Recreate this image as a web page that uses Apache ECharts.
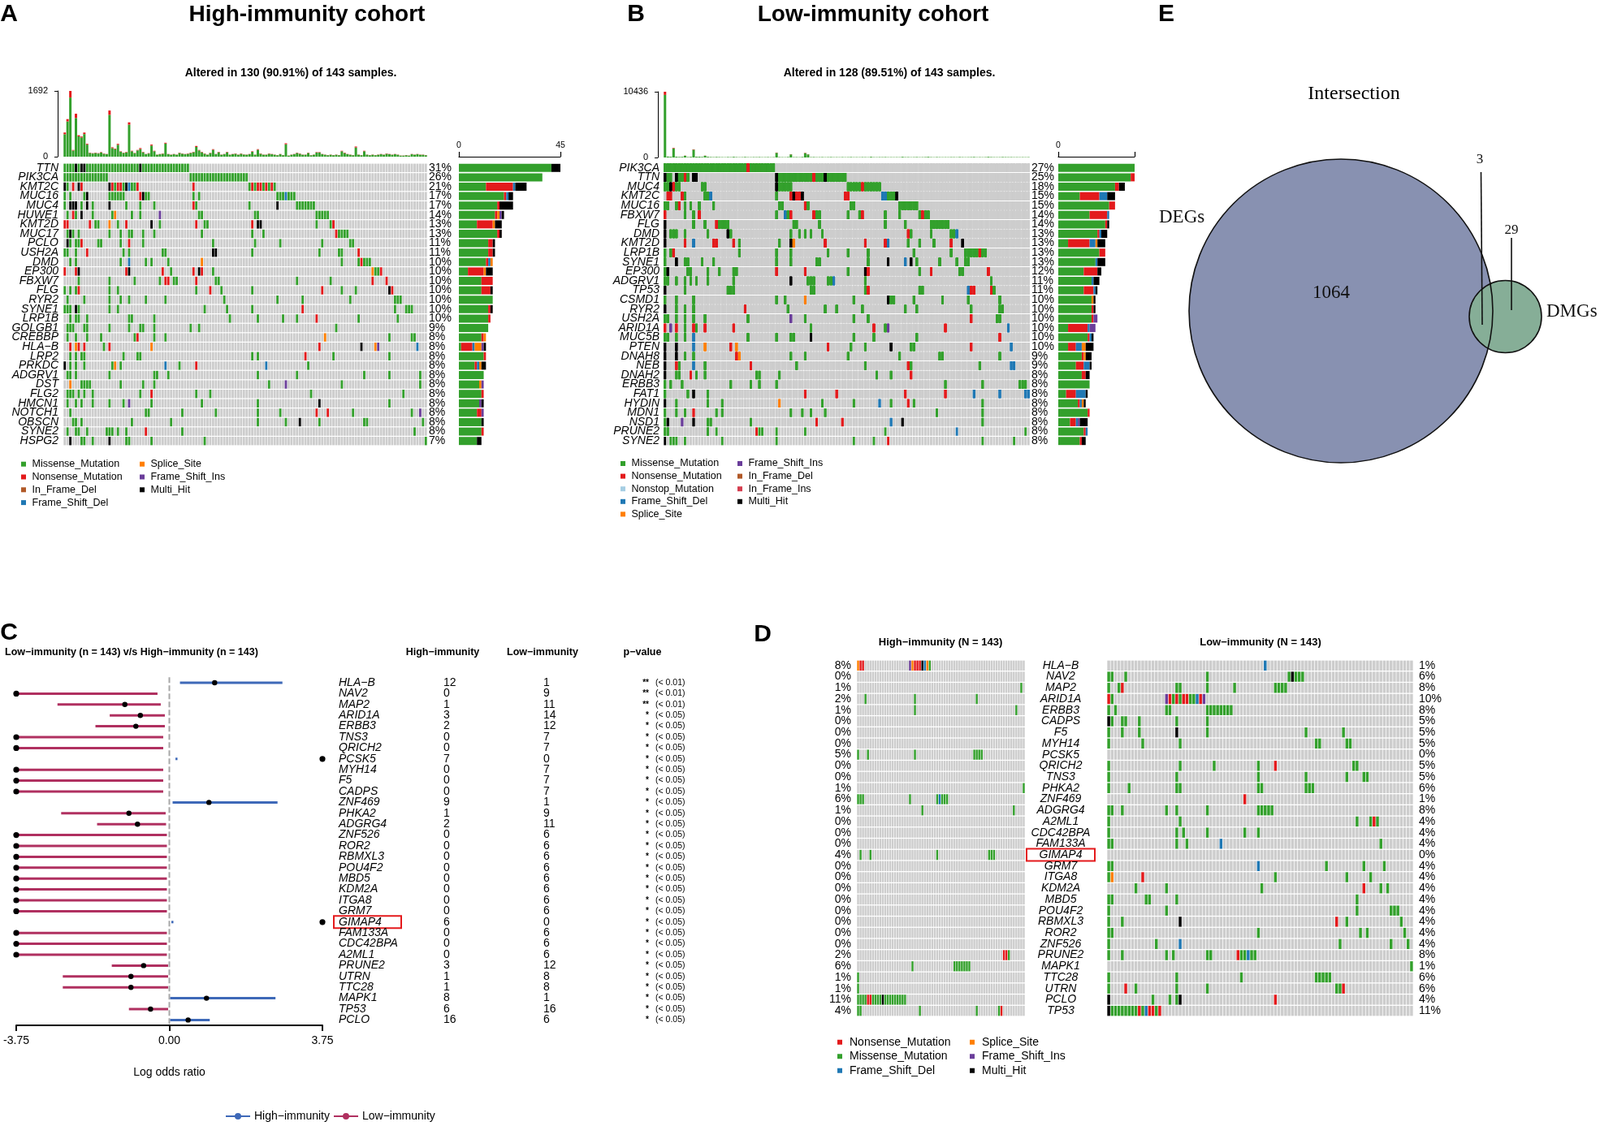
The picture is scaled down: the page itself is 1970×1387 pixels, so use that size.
<!DOCTYPE html>
<html lang="en">
<head>
<meta charset="utf-8">
<title>Mutation landscape</title>
<script src="https://cdn.jsdelivr.net/npm/echarts@6/dist/echarts.min.js"></script>
<style>
html, body { margin: 0; padding: 0; background: #fff; }
#main { width: 1970px; height: 1387px; }
</style>
</head>
<body>
<div id="main"></div>
<script>
// ---------------- data ----------------
// mutation codes: M missense, N nonsense, O nonstop, D frame_shift_del, S splice_site,
// P frame_shift_ins, I in_frame_del, F in_frame_ins, H multi_hit
var typeOrder = ['M', 'N', 'O', 'D', 'S', 'P', 'I', 'F', 'H'];
var typeNames = {M: 'Missense_Mutation', N: 'Nonsense_Mutation', O: 'Nonstop_Mutation', D: 'Frame_Shift_Del',
  S: 'Splice_Site', P: 'Frame_Shift_Ins', I: 'In_Frame_Del', F: 'In_Frame_Ins', H: 'Multi_Hit'};

// panel A: high-immunity oncoplot (130 altered samples)
var genesA = ['TTN','PIK3CA','KMT2C','MUC16','MUC4','HUWE1','KMT2D','MUC17','PCLO','USH2A','DMD','EP300','FBXW7','FLG','RYR2','SYNE1','LRP1B','GOLGB1','CREBBP','HLA\u2212B','LRP2','PRKDC','ADGRV1','DST','FLG2','HMCN1','NOTCH1','OBSCN','SYNE2','HSPG2'];
var pctA = ['31%','26%','21%','17%','17%','14%','13%','13%','11%','11%','10%','10%','10%','10%','10%','10%','10%','9%','8%','8%','8%','8%','8%','8%','8%','8%','8%','8%','8%','7%'];
var cellsA = [
  '0-44M 4H 6H 7H 27H',
  '0-15M 45-65M',
  '0H 1M 3N 5H 6N 16H 17N 18M 19N 20N 21M 22H 23D 24M 25M 26N 46N 66M 67N 68M 69N 70N 71M 72N 73M 74N 75M',
  '0M 2M 7M 8H 16-21M 27N 28H 29M 30M 46M 48M 76-82M 79D',
  '0M 2H 3H 4H 6M 8H 10M 16H 22M 27M 32M 46N 47M 66M 76H 83-89M',
  '1M 3N 4M 6H 10M 17M 18S 24M 27M 34P 48M 49M 68M 69M 90-94M',
  '0N 1N 9N 11M 12M 16S 19M 22N 31H 34M 47N 50M 51M 67N 69H 70H 90M 95M 96N',
  '1M 2H 3M 5M 16M 20M 23M 24M 28M 32M 49M 67M 71M 97N 98-101M',
  '1H 2M 4M 5M 6N 12M 13M 20M 23N 28M 53M 68M 77M 92M 102M 103M',
  '0M 1M 4M 8N 21M 23M 35M 36M 53H 54H 67M 91M 98M 99M 105N',
  '2M 4M 20M 23D 29M 31M 37M 49S 99M 105M 106N 107M 108M 109M',
  '0N 4N 5H 22N 23H 35N 38M 46N 48H 49N 53M 110S 111M 112M 113N',
  '5M 16M 25M 34M 36N 37N 39M 40M 47N 54M 55M 83M 95M 110N 115N',
  '0M 2M 4M 5N 16M 19M 47M 52N 56M 67M 92N 99M 104M 116H 117N',
  '1M 7M 16M 20M 23M 29M 36M 57M 76M 85M 102M 118-120M',
  '0-2M 4H 5M 16M 19M 50M 58M 67M 85N 118M 122-124M',
  '2M 4M 5M 8M 23M 24M 32M 59M 69M 78M 83M 90N 105M 119M',
  '1-3M 7M 8M 16M 23M 27M 28M 32M 45M 48M 97M',
  '1M 4M 8M 13M 25M 26N 32M 36M 93S 116M 124M 125M',
  '2N 4S 5N 7N 14M 16N 31S 91N 106H 111S 112P 126D',
  '2M 4M 6M 7M 21M 26M 27M 67M 69M 86N 96M 116M',
  '0H 2M 4M 7M 17M 18S 20M 36D 41M 47N 72D 87M',
  '1M 2M 4M 16M 32M 33M 37M 69M 83M 107M 116M 127M',
  '2S 6-9M 20M 28M 32M 73M 79P 99M 127M',
  '1M 2M 3M 5M 7M 10M 27M 31N 47M 52M 88M 121M',
  '1M 4M 6M 10M 16M 21M 23P 31M 49M 69M 91H 116M',
  '2M 29M 30M 42M 54M 69M 77M 90N 94N 103M 124M 127P',
  '3M 4M 6M 24M 38M 69M 79M 84H 91M 107M 108M 128M',
  '1M 4M 5M 8M 15-17M 19M 22M 29N 42M 125M',
  '2H 6M 7M 10M 16H 22M 23M 31M 50M 129M'
];
// variant counts per gene (right-hand bars)
var barsA = ['41M 4H','37M','12M 12N 1D 5H','20M 1N 1D 2H','17M 1N 6H','16M 1N 1S 1P 1H','8M 7N 1S 3H','17M 1N 1H','13M 2N 1H','13M 2N 1H',
  '12M 1N 1D 1S','4M 7N 1S 3H','10M 5N','10M 4N 1H','15M','13M 1N 1H','13M 1N','13M','10M 1N 1S','1M 5N 1D 3S 1P 1H',
  '11M 1N','7M 1N 1D 1S 2H','11M','9M 1S 1P','10M 1N','9M 1P 1H','8M 2N 1P','10M 1H','10M 1N','8M 2H'];
// mutations per sample (top bars): total and nonsense part
var tmbA = [622,967,1692,173,1105,552,518,621,331,104, 90,104,90,117,83,69,1188,242,207,331,
  138,104,120,884,152,97,173,221,124,69, 90,311,152,55,69,83,359,69,55,69,
  55,104,83,69,83,104,124,276,173,124, 83,55,100,193,69,124,55,69,124,55,
  69,83,55,83,60,55,69,138,55,193, 83,55,55,83,69,55,40,69,41,345,
  30,55,69,104,83,55,55,104,41,55, 117,117,69,55,41,55,41,55,41,152,
  104,69,55,41,262,55,41,152,55,41, 55,41,55,69,55,83,69,55,69,55,
  30,30,41,30,69,55,69,55,55,41];
var nonA = [45,60,170,15,110,30,25,40,20,8, 8,8,8,10,8,6,110,20,15,25,
  10,8,10,60,12,8,12,25,10,6, 8,25,12,5,6,8,20,6,5,6,
  5,8,6,6,8,8,10,25,12,10, 8,5,8,15,6,10,5,6,10,5,
  6,8,5,8,5,5,6,12,5,15, 8,5,5,8,6,5,4,6,4,25,
  4,5,6,8,8,5,5,8,4,5, 10,10,6,5,4,5,4,5,4,12,
  10,6,5,4,25,5,4,12,5,4, 5,4,5,6,5,8,6,5,6,5,
  4,4,4,4,6,5,6,5,5,4];

// panel B: low-immunity oncoplot (128 altered samples)
var genesB = ['PIK3CA','TTN','MUC4','KMT2C','MUC16','FBXW7','FLG','DMD','KMT2D','LRP1B','SYNE1','EP300','ADGRV1','TP53','CSMD1','RYR2','USH2A','ARID1A','MUC5B','PTEN','DNAH8','NEB','DNAH2','ERBB3','FAT1','HYDIN','MDN1','NSD1','PRUNE2','SYNE2'];
var pctB = ['27%','25%','18%','15%','15%','14%','14%','13%','13%','13%','13%','12%','11%','11%','10%','10%','10%','10%','10%','10%','9%','9%','8%','8%','8%','8%','8%','8%','8%','8%'];
var cellsB = [
  '0-38M 29N',
  '0H 1M 2M 4H 5M 6M 7N 8M 10H 11H 39H 40-63M 52N 56H',
  '0M 1M 2H 3N 4M 5M 13M 14M 39H 40-44M 64-75M 69N',
  '1N 2N 6N 7M 14M 15M 16D 39M 44N 45H 46N 47N 48H 63N 64N 76D 77D 78M 79M 80M 81H',
  '0M 1M 4M 5N 7M 9M 12M 17M 40M 41M 49N 50M 65M 66M 82-88M',
  '0N 7M 10M 12N 39M 42D 43M 44N 52N 53M 54M 64M 68M 69N 77M 82M 89M 90N 91M 92M',
  '0H 10M 14M 18N 19-22M 45M 46M 54M 77M 84M 93-99M',
  '0H 2M 3M 4M 7M 15M 22H 23M 44M 47M 49M 51M 55M 85N 86M 93M 100M 101M 102D',
  '0H 7N 10D 17N 18N 24N 26M 40M 44H 45S 56N 70N 77N 78D 85M 89M 94M 100N 104H',
  '0M 2M 3N 26M 39M 44M 57M 64M 71M 87M 100M 105-112M 110N',
  '0M 4H 7M 8M 13M 17M 39M 44M 53M 54M 71M 78H 84D 86H 88M 96M 102M 105M 106M',
  '0M 1H 8M 9M 15M 19M 24M 25M 39N 49N 64M 70H 71N 89M 93N 103M 104M 113N',
  '0M 1M 4M 7M 9M 11M 15M 24M 44H 50M 51M 52M 57M 58M 59D 70M 114M',
  '0H 7M 22M 23M 24M 51M 52M 70M 71N 89M 90M 106D 107N 108N 114N 115M',
  '0M 4M 10M 39M 42M 49S 66M 78H 79M 80M 87M 97M 106M 117M',
  '0H 4M 7M 10M 28N 43M 56M 60M 69M 84M 88M 107M 117M 118M',
  '0M 1M 4M 7M 10M 14M 29M 44P 49M 66M 71M 107N 116M 117M',
  '0N 2P 4N 7M 10N 11M 14N 24N 51M 73N 77M 78P 98N 120D',
  '0M 1M 4M 7M 10D 29M 39M 44M 45M 51H 66M 73M 88M 117N',
  '0H 4H 10D 14S 23N 25S 57N 65M 70M 79H 86M 87M 107N 121D',
  '0H 4H 7M 10M 25N 26S 44M 49M 64M 82M 96M 97M 117M',
  '0H 4N 5M 10D 14M 30N 46M 70M 85N 86M 110M 121D 122D',
  '0H 4M 5M 9N 11M 14M 32M 33M 40M 74M 79M 86N',
  '0M 2M 6M 23M 30M 33M 39M 98M 111M 124-126M',
  '0M 8M 10H 15M 49N 60N 84N 98N 108D 117D 126D 127D',
  '0H 4M 15M 20M 40S 55M 66M 75D 79M 85N 87M 111M',
  '0M 4M 7M 10N 18M 20M 44M 48M 51M 56M 95M 111M',
  '0M 1H 6P 10H 15M 16M 30M 53N 62N 79D 83H 111M',
  '0M 1M 15M 18M 32N 33M 34M 39M 49M 77M 102D 126M',
  '0H 2M 3M 4M 7M 20M 39M 66M 73M 78N 111M 122M'
];
var barsB = ['39M','37M 2N','29M 2N 3H','11M 10N 4D 4H','26M 3N','16M 9N 1D','24M 1N 1H','20M 1N 1D 3H','5M 11N 3D 1S 4H','21M 3N',
  '19M 1D 4H','13M 7N 2H','17M 1D 3H','13M 5N 1D 1H','17M 1S 1H','17M 1N 1H','17M 1N 2P','5M 10N 1D 3P','15M 1N 1D 1H','5M 4N 3D 2S 4H',
  '12M 1N 1S 3H','9M 4N 3D 1H','12M 2N 2H','16M','4M 5N 5D 1H','10M 1N 1D 1S 1H','15M 1N','6M 3N 1D 1P 4H','13M 1N 1D','11M 1N 2H'];
var tmbB = [10436,150,120,1520,130,90,110,300,80,100, 1300,120,130,90,300,110,80,60,90,70,
  60,50,80,60,110,70,50,60,90,60, 50,70,60,80,50,60,70,50,60,780,
  70,60,50,80,520,60,70,50,90,740, 520,60,80,50,60,70,50,60,80,50,
  60,50,70,50,60,80,50,60,50,70, 60,50,110,60,50,70,60,80,50,60,
  50,60,50,110,60,70,50,60,80,50, 60,70,110,60,50,70,60,50,60,50,
  70,60,50,80,60,50,60,70,90,50, 60,50,60,110,70,60,50,60,80,70,
  60,70,50,60,50,60,50,60];
var nonB = [500,5,5,80,5,5,5,20,5,5, 60,5,5,5,20,5,5,5,5,5,
  5,5,5,5,5,5,5,5,5,5, 5,5,5,5,5,5,5,5,5,40,
  5,5,5,5,30,5,5,5,5,40, 30,5,5,5,5,5,5,5,5,5,
  5,5,5,5,5,5,5,5,5,5, 5,5,5,5,5,5,5,5,5,5,
  5,5,5,5,5,5,5,5,5,5, 5,5,5,5,5,5,5,5,5,5,
  5,5,5,5,5,5,5,5,5,5, 5,5,5,5,5,5,5,5,5,5,
  5,5,5,5,5,5,5,5];

// panel C: forest plot, low vs high immunity
var genesC = ['HLA\u2212B','NAV2','MAP2','ARID1A','ERBB3','TNS3','QRICH2','PCSK5','MYH14','F5','CADPS','ZNF469','PHKA2','ADGRG4','ZNF526','ROR2','RBMXL3','POU4F2','MBD5','KDM2A','ITGA8','GRM7','GIMAP4','FAM133A','CDC42BPA','A2ML1','PRUNE2','UTRN','TTC28','MAPK1','TP53','PCLO'];
var highN = [12,0,1,3,2,0,0,7,0,0,0,9,1,2,0,0,0,0,0,0,0,0,6,0,0,0,3,1,1,8,6,16];
var lowN = [1,9,11,14,12,7,7,0,7,7,7,1,9,11,6,6,6,6,6,6,6,6,0,6,6,6,12,8,8,1,16,6];
var pStars = ['**','**','**','*','*','*','*','*','*','*','*','*','*','*','*','*','*','*','*','*','*','*','*','*','*','*','*','*','*','*','*','*'];
var pText = ['(< 0.01)','(< 0.01)','(< 0.01)','(< 0.05)','(< 0.05)','(< 0.05)','(< 0.05)','(< 0.05)','(< 0.05)','(< 0.05)','(< 0.05)','(< 0.05)','(< 0.05)','(< 0.05)','(< 0.05)','(< 0.05)','(< 0.05)','(< 0.05)','(< 0.05)','(< 0.05)','(< 0.05)','(< 0.05)','(< 0.05)','(< 0.05)','(< 0.05)','(< 0.05)','(< 0.05)','(< 0.05)','(< 0.05)','(< 0.05)','(< 0.05)','(< 0.05)'];
var NI = -Infinity, PI = Infinity;
var orEst = [1.11, NI, -1.09, -0.71, -0.82, NI, NI, PI, NI, NI, NI, 0.97, -0.99, -0.78, NI, NI, NI, NI, NI, NI, NI, NI, PI, NI, NI, NI, -0.63, -0.94, -0.94, 0.91, -0.46, 0.46];
var orLo = [0.26, NI, -2.74, -1.46, -1.81, NI, NI, 0.15, NI, NI, NI, 0.08, -2.65, -1.77, NI, NI, NI, NI, NI, NI, NI, NI, 0.05, NI, NI, NI, -1.41, -2.61, -2.61, 0.02, -0.99, 0.02];
var orHi = [2.77, -0.29, -0.21, -0.11, -0.11, -0.15, -0.15, 0.2, -0.15, -0.15, -0.15, 2.65, -0.09, -0.08, -0.06, -0.06, -0.06, -0.06, -0.06, -0.06, -0.06, -0.06, 0.1, -0.06, -0.06, -0.06, -0.03, -0.03, -0.03, 2.6, -0.03, 0.99];
var orTicks = [-3.75, 0, 3.75];
var highlightGene = 'GIMAP4';

// panel D: co-oncoplot of the same genes
var genesD = ['HLA\u2212B','NAV2','MAP2','ARID1A','ERBB3','CADPS','F5','MYH14','PCSK5','QRICH2','TNS3','PHKA2','ZNF469','ADGRG4','A2ML1','CDC42BPA','FAM133A','GIMAP4','GRM7','ITGA8','KDM2A','MBD5','POU4F2','RBMXL3','ROR2','ZNF526','PRUNE2','MAPK1','TTC28','UTRN','PCLO','TP53'];
var pctDL = ['8%','0%','1%','2%','1%','0%','0%','0%','5%','0%','0%','1%','6%','1%','0%','0%','0%','4%','0%','0%','0%','0%','0%','0%','0%','0%','2%','6%','1%','1%','11%','4%'];
var pctDR = ['1%','6%','8%','10%','8%','5%','5%','5%','0%','5%','5%','6%','1%','8%','4%','4%','4%','0%','4%','4%','4%','4%','4%','4%','4%','4%','8%','1%','6%','6%','4%','11%'];
var cellsDL = [
  '0S 1N 2N 21P 22S 23N 24N 25N 26H 27D 28S 29M', '', '66M', '3M 23M 48M', '23M 64M', '', '', '',
  '0M 4M 23M 47-50M', '', '', '67M', '0-2M 21M 32M 33D 34-36M', '26M 63M', '', '', '',
  '1M 5M 32M 53-55M', '', '', '', '', '', '', '', '',
  '59N 60N 61M', '22M 39-45M', '0M', '0M', '0-19M 4N 5N 10H', '0M 1M 25M 48M 57M 58N'
];
var cellsDR = [
  '46D',
  '0M 1M 5M 29M 53M 54H 55-57M',
  '0M 3M 4N 20M 21M 29M 37M 49-52M',
  '0N 1M 17P 18N 19M 20N 21M 22N 23N 24M 25M 26D 27N 28P',
  '0M 2M 17M 18M 29-36M',
  '0H 1M 4M 5M 9M 20M 29M',
  '0M 4M 9M 20H 29M 58M 69M',
  '0M 10M 21M 61M 62M 70M 71M',
  '',
  '0M 21M 31M 44M 49N 72M 73M',
  '0M 20M 44M 58M 70M 75M 76M',
  '0M 6M 20M 21M 44M 45M 58-60M',
  '40N',
  '0M 1M 4M 17M 20M 29M 44-48M',
  '0M 21M 73M 77M 78N 79M',
  '0M 20M 22M 29M 40M 44M',
  '0M 1M 20M 23M 33D 80M',
  '',
  '0M 1M 44D 64M 75M 81M',
  '0M 1S 10N 49M 70M 77M',
  '8M 17M 45M 75N 80M 82M',
  '0M 1M 11M 12M 20M 73M',
  '0M 17M 73M 83-85M',
  '0M 4M 21H 67N 70M 86M',
  '0M 1M 44M 74M 76M 87M',
  '0M 14M 21D 68M 83M 88M',
  '0M 4M 17M 19M 29M 30M 38N 39M 40M 41D 42M 43M',
  '89M',
  '0M 20M 39M 61-65M',
  '0M 5N 8M 20M 29M 67M 68M 69N',
  '0H 13M 18M 20M 21H 49N',
  '0H 1-8M 9N 10M 11D 12N 13N 14M 15N'
];

// panel E: Venn counts (only DEGs, shared, only DMGs)
var vennSets = ['DEGs', 'DMGs'];
var vennCounts = [1064, 3, 29];

// ---------------- style ----------------
var FF = 'Liberation Sans, Arial, Helvetica, sans-serif';
var SERIF = 'Liberation Serif, Times New Roman, serif';
var BG = '#CDCDCD';
var typeColors = {M: '#33A02C', N: '#E31A1C', O: '#A6CEE3', D: '#1F78B4', S: '#FF7F00', P: '#6A3D9A', I: '#B15928', F: '#D53E4F', H: '#000000'};
var BLUE = '#3E69B8', RED = '#B03060';

var grids = [], xAxes = [], yAxes = [], series = [];
function addGrid(g) { g.outerBoundsMode = 'none'; g.containLabel = false; grids.push(g); return grids.length - 1; }
function addX(a) { xAxes.push(a); return xAxes.length - 1; }
function addY(a) { yAxes.push(a); return yAxes.length - 1; }

function parseCells(str) {
  var out = [];
  (str.match(/\d+(?:-\d+)?[A-Z]/g) || []).forEach(function (t) {
    var m = t.match(/(\d+)(?:-(\d+))?([A-Z])/);
    var a = +m[1], b = m[2] ? +m[2] : a;
    for (var c = a; c <= b; c++) out.push([c, m[3]]);
  });
  return out;
}
function parseCounts(str) {
  var out = {};
  (str.match(/\d+[A-Z]/g) || []).forEach(function (t) { out[t.slice(-1)] = +t.slice(0, -1); });
  return out;
}

function cellRenderer(gx, gy) {
  return function (params, api) {
    var c = api.value(0), r = api.value(1), t = api.value(2);
    var p = api.coord([c, r]);
    var s = api.size([1, 1]);
    return {type: 'rect', shape: {x: p[0] + gx / 2, y: p[1] - s[1] / 2 + gy / 2, width: s[0] - gx, height: s[1] - gy},
      style: {fill: t < 0 ? BG : typeColors[typeOrder[t]]}};
  };
}

function addMatrix(genes, cells, nCols, box, gx, gy, leftLab, rightLab) {
  var g = addGrid({left: box[0], top: box[1], width: box[2], height: box[3]});
  var xi = addX({gridIndex: g, type: 'value', min: 0, max: nCols, show: false});
  var yi = addY({gridIndex: g, type: 'category', inverse: true, data: genes, position: 'left',
    show: !!leftLab, axisLine: {show: false}, axisTick: {show: false}, splitLine: {show: false},
    axisLabel: leftLab || {}});
  if (rightLab) {
    addY({gridIndex: g, type: 'category', inverse: true, data: genes, position: 'right',
      axisLine: {show: false}, axisTick: {show: false}, splitLine: {show: false}, axisLabel: rightLab});
  }
  var data = [];
  genes.forEach(function (gName, r) {
    var row = [];
    for (var c = 0; c < nCols; c++) row.push(-1);
    parseCells(cells[r]).forEach(function (p) { if (p[0] < nCols) row[p[0]] = typeOrder.indexOf(p[1]); });
    for (var k = 0; k < nCols; k++) data.push([k, r, row[k]]);
  });
  series.push({type: 'custom', silent: true, xAxisIndex: xi, yAxisIndex: yi, encode: {x: 0, y: 1},
    renderItem: cellRenderer(gx, gy), data: data, animation: false});
}

function labelStyle(extra) {
  var s = {color: '#000', fontFamily: FF, fontSize: 14, interval: 0};
  for (var k in extra) s[k] = extra[k];
  return s;
}

function buildOnco(id, genes, pct, cells, nCols, tmb, non, bars, tmbMax, barMax, showMax, L) {
  addMatrix(genes, cells, nCols, [L.x, L.y, L.w, L.h], 0.6, 1.2,
    labelStyle({fontStyle: 'italic', margin: L.gm, align: 'right'}),
    labelStyle({margin: 2, align: 'left', formatter: function (v, i) { return pct[i]; }}));

  // per-sample mutation burden
  var gT = addGrid({left: L.x, top: L.ty, width: L.w, height: L.th});
  var cats = tmb.map(function (v, i) { return i; });
  var xT = addX({gridIndex: gT, type: 'category', data: cats, show: false});
  var yT = addY({gridIndex: gT, type: 'value', min: 0, max: tmbMax, interval: tmbMax, offset: 7,
    axisLine: {show: true, lineStyle: {color: '#000', width: 1}}, axisTick: {show: true, length: 4, lineStyle: {color: '#000'}},
    axisLabel: {color: '#000', fontFamily: FF, fontSize: 11, margin: 12, formatter: function (v) { return String(v); }},
    splitLine: {show: false}});
  series.push({type: 'bar', name: typeNames.M, stack: 't' + id, xAxisIndex: xT, yAxisIndex: yT, barCategoryGap: '14%',
    itemStyle: {color: typeColors.M}, data: tmb.map(function (v, i) { return v - non[i]; }), animation: false, silent: true});
  series.push({type: 'bar', name: typeNames.N, stack: 't' + id, xAxisIndex: xT, yAxisIndex: yT, barCategoryGap: '14%',
    itemStyle: {color: typeColors.N}, data: non, animation: false, silent: true});

  // variant counts per gene
  var gR = addGrid({left: L.rx, top: L.y, width: L.rw, height: L.h});
  var xR = addX({gridIndex: gR, type: 'value', position: 'top', min: 0, max: barMax, interval: barMax, offset: 8,
    axisLine: {show: true, lineStyle: {color: '#000', width: 1.2}}, axisTick: {show: true, length: 6, lineStyle: {color: '#000', width: 1.2}},
    axisLabel: {color: '#000', fontFamily: FF, fontSize: 10.5, margin: 8,
      formatter: function (v) { return (v === 0 || showMax) ? String(v) : ''; }},
    splitLine: {show: false}});
  var yR = addY({gridIndex: gR, type: 'category', inverse: true, data: genes, show: false});
  var counts = bars.map(parseCounts);
  typeOrder.forEach(function (t) {
    series.push({type: 'bar', name: typeNames[t], stack: 'r' + id, xAxisIndex: xR, yAxisIndex: yR, barCategoryGap: '14%',
      itemStyle: {color: typeColors[t]}, data: counts.map(function (c) { return c[t] || 0; }), animation: false, silent: true});
  });
}

// ---- panels A and B ----
buildOnco('A', genesA, pctA, cellsA, 130, tmbA, nonA, barsA, 1692, 45, true,
  {x: 78, y: 201, w: 448, h: 348, ty: 112, th: 81, rx: 565, rw: 125, gm: 6});
buildOnco('B', genesB, pctB, cellsB, 128, tmbB, nonB, barsB, 10436, 39, false,
  {x: 817, y: 201, w: 451, h: 348, ty: 113, th: 81, rx: 1303, rw: 94, gm: 5});

// ---- panel C: forest plot ----
var clip = function (v) { return Math.max(orTicks[0], Math.min(orTicks[2], v)); };
var rowH = 13.4, cTop = 834.3, cH = rowH * genesC.length;
var gC = addGrid({left: 20, top: cTop, width: 377, height: cH});
var xC = addX({gridIndex: gC, type: 'value', min: orTicks[0], max: orTicks[2], interval: orTicks[2],
  axisLine: {show: true, lineStyle: {color: '#000', width: 2}}, axisTick: {show: true, length: 7, lineStyle: {color: '#000', width: 2}},
  axisLabel: {color: '#000', fontFamily: FF, fontSize: 14, margin: 12, formatter: function (v) { return v.toFixed(2); }},
  splitLine: {show: false}, name: 'Log odds ratio', nameLocation: 'middle', nameGap: 51,
  nameTextStyle: {color: '#000', fontFamily: FF, fontSize: 14}});
var yC = addY({gridIndex: gC, type: 'category', inverse: true, data: genesC, show: false});
series.push({type: 'custom', silent: true, xAxisIndex: xC, yAxisIndex: yC, encode: {x: [0, 1, 2], y: 3}, animation: false,
  data: genesC.map(function (g, i) { return [clip(orLo[i]), clip(orHi[i]), clip(orEst[i]), i]; }),
  renderItem: function (params, api) {
    var lo = api.value(0), hi = api.value(1), est = api.value(2), r = api.value(3);
    var a = api.coord([lo, r]), b = api.coord([hi, r]), e = api.coord([est, r]);
    var col = est > 0 ? BLUE : RED;
    var kids = [];
    if (params.dataIndex === 0) {
      var cs = params.coordSys, z = api.coord([0, r]);
      kids.push({type: 'line', shape: {x1: z[0], y1: cs.y, x2: z[0], y2: cs.y + cs.height},
        style: {stroke: '#A8A8A8', lineWidth: 2, lineDash: [7, 3]}});
    }
    kids.push({type: 'line', shape: {x1: a[0], y1: a[1], x2: b[0], y2: b[1]}, style: {stroke: col, lineWidth: 3}});
    kids.push({type: 'circle', shape: {cx: e[0], cy: e[1], r: Math.abs(est) >= orTicks[2] ? 3.6 : 3.2}, style: {fill: '#000'}});
    return {type: 'group', children: kids};
  }});
// legend-only series
series.push({type: 'line', name: 'High\u2212immunity', xAxisIndex: xC, yAxisIndex: yC, data: [], symbol: 'circle', symbolSize: 7,
  itemStyle: {color: BLUE}, lineStyle: {color: BLUE, width: 3}});
series.push({type: 'line', name: 'Low\u2212immunity', xAxisIndex: xC, yAxisIndex: yC, data: [], symbol: 'circle', symbolSize: 7,
  itemStyle: {color: RED}, lineStyle: {color: RED, width: 3}});

// table beside the forest plot
var gTb = addGrid({left: 400, top: cTop, width: 460, height: cH});
var xTb = addX({gridIndex: gTb, type: 'value', min: 0, max: 460, show: false});
var yTb = addY({gridIndex: gTb, type: 'category', inverse: true, data: genesC, show: false});
function txt(p, s, opt) {
  var st = {text: s, fill: '#000', fontFamily: FF, fontSize: opt.size || 14, fontStyle: opt.italic ? 'italic' : 'normal',
    fontWeight: opt.bold ? 'bold' : 'normal', align: opt.align || 'left', textAlign: opt.align || 'left',
    verticalAlign: 'middle', textVerticalAlign: 'middle'};
  return {type: 'text', x: p[0], y: p[1], style: st};
}
series.push({type: 'custom', silent: true, xAxisIndex: xTb, yAxisIndex: yTb, encode: {x: 0, y: 1}, animation: false,
  data: genesC.map(function (g, i) { return [0, i]; }),
  renderItem: function (params, api) {
    var i = api.value(1);
    var kids = [
      txt(api.coord([17, i]), genesC[i], {italic: true}),
      txt(api.coord([146, i]), String(highN[i]), {}),
      txt(api.coord([269, i]), String(lowN[i]), {}),
      txt(api.coord([399, i]), pStars[i], {size: 10, bold: true, align: 'right'}),
      txt(api.coord([407, i]), pText[i], {size: 10.5})
    ];
    if (genesC[i] === highlightGene) {
      var p0 = api.coord([11, i]), p1 = api.coord([94, i]);
      kids.push({type: 'rect', shape: {x: p0[0], y: p0[1] - 7.5, width: p1[0] - p0[0], height: 15},
        style: {fill: 'none', stroke: '#E41A1C', lineWidth: 2}});
    }
    return {type: 'group', children: kids};
  }});

// ---- panel D ----
var dTop = 813, dH = 439;
addMatrix(genesD, cellsDL, 68, [1055, dTop, 207, dH], 0.6, 1.3,
  labelStyle({margin: 7, align: 'right', formatter: function (v, i) { return pctDL[i]; }}), null);
addMatrix(genesD, cellsDR, 90, [1363, dTop, 377, dH], 0.7, 1.3, null,
  labelStyle({margin: 7, align: 'left', formatter: function (v, i) { return pctDR[i]; }}));
var gDl = addGrid({left: 1262, top: dTop, width: 101, height: dH});
var xDl = addX({gridIndex: gDl, type: 'value', min: 0, max: 101, show: false});
var yDl = addY({gridIndex: gDl, type: 'category', inverse: true, data: genesD, show: false});
series.push({type: 'custom', silent: true, xAxisIndex: xDl, yAxisIndex: yDl, encode: {x: 0, y: 1}, animation: false,
  data: genesD.map(function (g, i) { return [0, i]; }),
  renderItem: function (params, api) {
    var i = api.value(1);
    var kids = [txt(api.coord([44, i]), genesD[i], {italic: true, align: 'center'})];
    if (genesD[i] === highlightGene) {
      var p0 = api.coord([2, i]), p1 = api.coord([86, i]);
      kids.push({type: 'rect', shape: {x: p0[0], y: p0[1] - 7.5, width: p1[0] - p0[0], height: 15},
        style: {fill: 'none', stroke: '#E41A1C', lineWidth: 2}});
    }
    return {type: 'group', children: kids};
  }});

// ---- panel E: Venn ----
var VL = {a: [231, 233, 187], b: [433.5, 240, 44.5], onlyA: [219, 211], both: [402, 47], bothLine: [403.5, 62, 405, 250],
  onlyB: [441, 134], onlyBLine: [441, 143, 441, 232], nameA: [7, 118], nameB: [484, 234]};
var gE = addGrid({left: 1420, top: 150, width: 550, height: 450});
var xE = addX({gridIndex: gE, type: 'value', min: 0, max: 550, show: false});
var yE = addY({gridIndex: gE, type: 'value', min: 0, max: 450, inverse: true, show: false});
series.push({type: 'custom', silent: true, xAxisIndex: xE, yAxisIndex: yE, encode: {x: 0, y: 1}, animation: false,
  data: [[0, 0]],
  renderItem: function (params, api) {
    var ca = api.coord([VL.a[0], VL.a[1]]), cb = api.coord([VL.b[0], VL.b[1]]);
    var ra = api.size([VL.a[2], 0])[0], rb = api.size([VL.b[2], 0])[0];
    var l1a = api.coord([VL.bothLine[0], VL.bothLine[1]]), l1b = api.coord([VL.bothLine[2], VL.bothLine[3]]);
    var l2a = api.coord([VL.onlyBLine[0], VL.onlyBLine[1]]), l2b = api.coord([VL.onlyBLine[2], VL.onlyBLine[3]]);
    function vt(pt, s, size, align) {
      var p = api.coord(pt);
      return {type: 'text', x: p[0], y: p[1], style: {text: s, fill: '#111', fontFamily: SERIF, fontSize: size,
        align: align || 'center', textAlign: align || 'center', verticalAlign: 'middle', textVerticalAlign: 'middle'}};
    }
    return {type: 'group', children: [
      {type: 'circle', shape: {cx: ca[0], cy: ca[1], r: ra}, style: {fill: '#8891B1'}},
      {type: 'circle', shape: {cx: cb[0], cy: cb[1], r: rb}, style: {fill: '#86AE97'}},
      {type: 'circle', shape: {cx: ca[0], cy: ca[1], r: ra}, style: {fill: 'none', stroke: '#111', lineWidth: 1.6}},
      {type: 'circle', shape: {cx: cb[0], cy: cb[1], r: rb}, style: {fill: 'none', stroke: '#111', lineWidth: 1.6}},
      {type: 'line', shape: {x1: l1a[0], y1: l1a[1], x2: l1b[0], y2: l1b[1]}, style: {stroke: '#111', lineWidth: 1.6}},
      {type: 'line', shape: {x1: l2a[0], y1: l2a[1], x2: l2b[0], y2: l2b[1]}, style: {stroke: '#111', lineWidth: 1.6}},
      vt(VL.onlyA, String(vennCounts[0]), 23),
      vt(VL.both, String(vennCounts[1]), 17),
      vt(VL.onlyB, String(vennCounts[2]), 17),
      vt(VL.nameA, vennSets[0], 23, 'left'),
      vt(VL.nameB, vennSets[1], 23, 'left')
    ]};
  }});

// ---------------- legends ----------------
function legendCol(left, top, names, fs, lh, gap, iw) {
  return {left: left, top: top, orient: 'vertical', padding: 0, itemGap: gap, itemWidth: iw, itemHeight: 6,
    icon: 'path://M0,0H6V6H0Z', selectedMode: false, data: names,
    textStyle: {fontFamily: FF, fontSize: fs, color: '#000', lineHeight: lh}};
}
var legends = [
  legendCol(26, 564.7, ['Missense_Mutation', 'Nonsense_Mutation', 'In_Frame_Del', 'Frame_Shift_Del'], 12.5, 14, 1.8, 11),
  legendCol(172, 564.7, ['Splice_Site', 'Frame_Shift_Ins', 'Multi_Hit'], 12.5, 14, 1.8, 11),
  legendCol(764, 564, ['Missense_Mutation', 'Nonsense_Mutation', 'Nonstop_Mutation', 'Frame_Shift_Del', 'Splice_Site'], 12.5, 14, 1.6, 11),
  legendCol(908, 564, ['Frame_Shift_Ins', 'In_Frame_Del', 'In_Frame_Ins', 'Multi_Hit'], 12.5, 14, 1.6, 11),
  legendCol(1031, 1276, ['Nonsense_Mutation', 'Missense_Mutation', 'Frame_Shift_Del'], 14, 15.5, 2, 14),
  legendCol(1194, 1276, ['Splice_Site', 'Frame_Shift_Ins', 'Multi_Hit'], 14, 15.5, 2, 14),
  {left: 277, top: 1368, orient: 'horizontal', padding: 0, itemGap: 4, itemWidth: 30, itemHeight: 10, selectedMode: false,
    data: ['High\u2212immunity', 'Low\u2212immunity'], textStyle: {fontFamily: FF, fontSize: 14, color: '#000'}}
];

// ---------------- titles ----------------
function gtext(x, y, s, size, weight, align, family) {
  return {type: 'text', x: x, y: y, silent: true, style: {text: s, fill: '#000', fontFamily: family || FF, fontSize: size,
    fontWeight: weight || 'normal', align: align || 'center', textAlign: align || 'center', verticalAlign: 'middle', textVerticalAlign: 'middle'}};
}
var graphics = [
  gtext(11, 18, 'A', 30, 'bold'),
  gtext(378, 18, 'High-immunity cohort', 28, 'bold'),
  gtext(358, 90, 'Altered in 130 (90.91%) of 143 samples.', 14, 'bold'),
  gtext(783, 18, 'B', 30, 'bold'),
  gtext(1075, 18, 'Low-immunity cohort', 28, 'bold'),
  gtext(1095, 90, 'Altered in 128 (89.51%) of 143 samples.', 14, 'bold'),
  gtext(1436, 18, 'E', 30, 'bold'),
  gtext(1667, 116, 'Intersection', 24, 'normal', 'center', SERIF),
  gtext(11, 780, 'C', 30, 'bold'),
  gtext(6, 804, 'Low\u2212immunity (n = 143) v/s High\u2212immunity (n = 143)', 12.5, 'bold', 'left'),
  gtext(545, 804, 'High\u2212immunity', 12.5, 'bold'),
  gtext(668, 804, 'Low\u2212immunity', 12.5, 'bold'),
  gtext(791, 804, 'p\u2212value', 12.5, 'bold'),
  gtext(939, 782, 'D', 30, 'bold'),
  gtext(1158, 791.5, 'High\u2212immunity (N = 143)', 13, 'bold'),
  gtext(1552, 791.5, 'Low\u2212immunity (N = 143)', 13, 'bold')
];

var chart = echarts.init(document.getElementById('main'), null, {renderer: 'canvas'});
chart.setOption({
  backgroundColor: '#fff',
  animation: false,
  textStyle: {fontFamily: FF},
  grid: grids,
  xAxis: xAxes,
  yAxis: yAxes,
  legend: legends,
  graphic: graphics,
  series: series
});
</script>
</body>
</html>
